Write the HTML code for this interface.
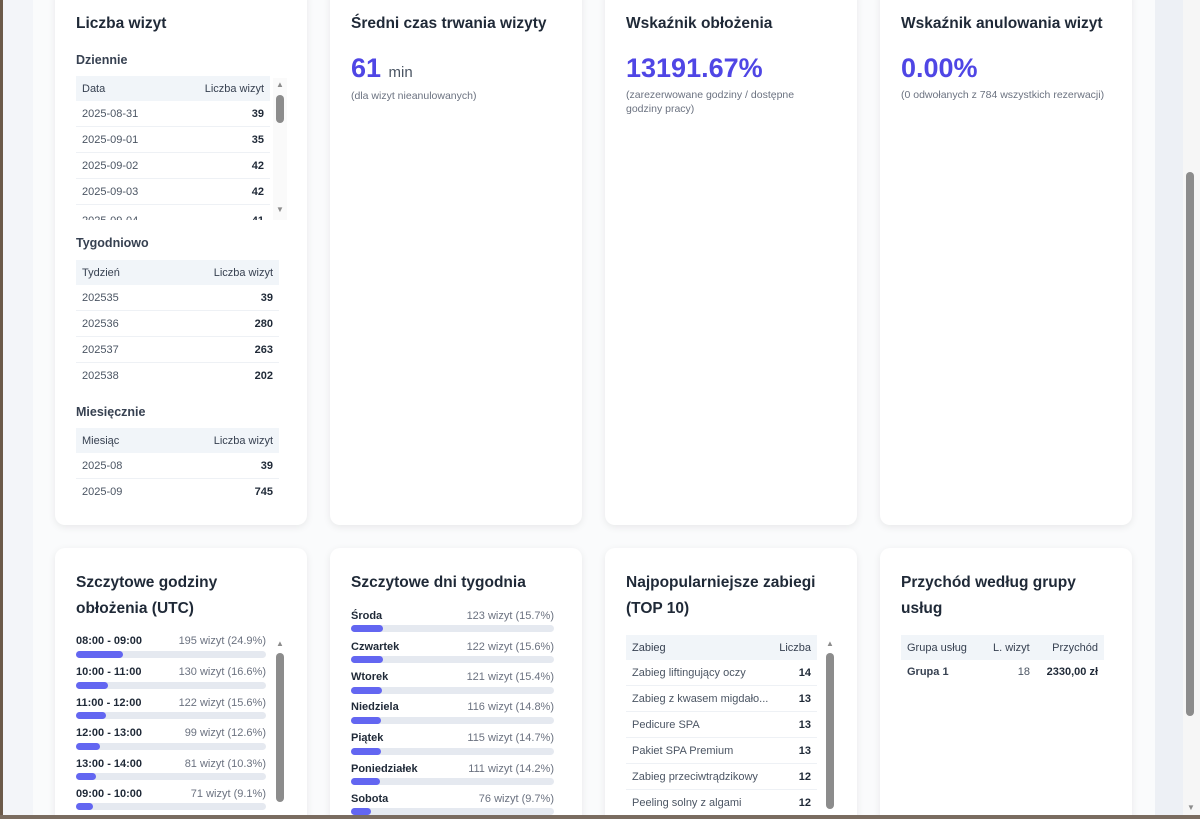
<!DOCTYPE html>
<html><head><meta charset="utf-8"><style>
*{box-sizing:border-box;margin:0;padding:0}
html,body{width:1200px;height:819px;overflow:hidden}
body{background:#f1f4f8;font-family:"Liberation Sans","DejaVu Sans",sans-serif;position:relative;color:#1f2937}
.a{position:absolute}
.main{left:3px;top:0;width:1180px;height:815px;background:#f3f5f9}
.inner{left:33px;top:0;width:1122px;height:815px;background:#fafbfc}
.card{position:absolute;background:#fff;border-radius:10px;box-shadow:0 2px 8px rgba(0,0,0,.08)}
.t{position:absolute;font-size:15.5px;font-weight:bold;color:#1f2937;line-height:26px}
.sub{position:absolute;font-size:12.5px;color:#374151;font-weight:bold}
.th{position:absolute;background:#f1f5f9;height:25px;font-size:11px;color:#374151}
.th span,.tr span{position:absolute;top:50%;transform:translateY(-50%)}
.tr{position:absolute;height:26px;border-bottom:1px solid #eef1f5;font-size:11px;color:#4b5563}
.tr b{position:absolute;right:6px;top:50%;transform:translateY(-50%);color:#1f2937}
.big{position:absolute;font-size:27px;font-weight:bold;color:#4f46e5}
.note{position:absolute;font-size:10.5px;color:#6b7280;line-height:14px}
.bl{position:absolute;font-size:11px;font-weight:bold;color:#1f2937}
.br{position:absolute;font-size:11px;color:#6b7280;text-align:right}
.track{position:absolute;height:7px;background:#e5e9f0;border-radius:4px}
.fill{position:absolute;left:0;top:0;height:7px;background:#6366f1;border-radius:4px}
.sb{position:absolute;width:8px;background:#8c8c8c;border-radius:4px}
.arr{position:absolute;font-size:8px;color:#8c8c8c}
</style></head><body>
<div class="a main"></div>
<div class="a inner"></div>

<!-- Top row -->
<div class="card" style="left:55px;top:-12px;width:252px;height:537px"></div>
<div class="card" style="left:330px;top:-12px;width:252px;height:537px"></div>
<div class="card" style="left:605px;top:-12px;width:252px;height:537px"></div>
<div class="card" style="left:880px;top:-12px;width:252px;height:537px"></div>

<div class="t" style="left:76px;top:11px">Liczba wizyt</div>
<div class="sub" style="left:76px;top:53px">Dziennie</div>
<div class="th" style="left:76px;top:76px;width:194px"><span style="left:6px">Data</span><span style="right:6px">Liczba wizyt</span></div>
<div style="position:absolute;left:76px;top:101px;width:194px;height:119px;overflow:hidden">
<div class="tr" style="left:0;top:0;width:194px"><span style="left:6px">2025-08-31</span><b>39</b></div>
<div class="tr" style="left:0;top:26px;width:194px"><span style="left:6px">2025-09-01</span><b>35</b></div>
<div class="tr" style="left:0;top:52px;width:194px"><span style="left:6px">2025-09-02</span><b>42</b></div>
<div class="tr" style="left:0;top:78px;width:194px"><span style="left:6px">2025-09-03</span><b>42</b></div>
<div class="tr" style="left:0;top:107px;width:194px"><span style="left:6px">2025-09-04</span><b>41</b></div>
</div>
<div class="a" style="left:273px;top:78px;width:14px;height:142px;background:#fafafa"></div>
<div class="arr" style="left:276px;top:80px">▲</div>
<div class="sb" style="left:276px;top:95px;height:28px"></div>
<div class="arr" style="left:276px;top:205px">▼</div>

<div class="sub" style="left:76px;top:236px">Tygodniowo</div>
<div class="th" style="left:76px;top:260px;width:203px"><span style="left:6px">Tydzień</span><span style="right:6px">Liczba wizyt</span></div>
<div class="tr" style="left:76px;top:285px;width:203px"><span style="left:6px">202535</span><b>39</b></div>
<div class="tr" style="left:76px;top:311px;width:203px"><span style="left:6px">202536</span><b>280</b></div>
<div class="tr" style="left:76px;top:337px;width:203px"><span style="left:6px">202537</span><b>263</b></div>
<div class="tr" style="left:76px;top:363px;width:203px;border:none"><span style="left:6px">202538</span><b>202</b></div>

<div class="sub" style="left:76px;top:405px">Miesięcznie</div>
<div class="th" style="left:76px;top:428px;width:203px"><span style="left:6px">Miesiąc</span><span style="right:6px">Liczba wizyt</span></div>
<div class="tr" style="left:76px;top:453px;width:203px"><span style="left:6px">2025-08</span><b>39</b></div>
<div class="tr" style="left:76px;top:479px;width:203px;border:none"><span style="left:6px">2025-09</span><b>745</b></div>

<div class="t" style="left:351px;top:11px">Średni czas trwania wizyty</div>
<div class="big" style="left:351px;top:53px">61 <span style="font-size:15px;font-weight:normal;color:#4b5563">min</span></div>
<div class="note" style="left:351px;top:89px">(dla wizyt nieanulowanych)</div>

<div class="t" style="left:626px;top:11px">Wskaźnik obłożenia</div>
<div class="big" style="left:626px;top:53px">13191.67%</div>
<div class="note" style="left:626px;top:88px;width:200px">(zarezerwowane godziny / dostępne godziny pracy)</div>

<div class="t" style="left:901px;top:11px">Wskaźnik anulowania wizyt</div>
<div class="big" style="left:901px;top:53px">0.00%</div>
<div class="note" style="left:901px;top:88px">(0 odwołanych z 784 wszystkich rezerwacji)</div>

<!-- Bottom row -->
<div class="card" style="left:55px;top:548px;width:252px;height:290px"></div>
<div class="card" style="left:330px;top:548px;width:252px;height:290px"></div>
<div class="card" style="left:605px;top:548px;width:252px;height:290px"></div>
<div class="card" style="left:880px;top:548px;width:252px;height:290px"></div>

<div class="t" style="left:76px;top:570px;width:200px">Szczytowe godziny obłożenia (UTC)</div>
<div class="bl" style="left:76px;top:635px">08:00 - 09:00</div><div class="br" style="left:146px;top:635px;width:120px">195 wizyt (24.9%)</div><div class="track" style="left:76px;top:651px;width:190px"><div class="fill" style="width:47px"></div></div>
<div class="bl" style="left:76px;top:666px">10:00 - 11:00</div><div class="br" style="left:146px;top:666px;width:120px">130 wizyt (16.6%)</div><div class="track" style="left:76px;top:682px;width:190px"><div class="fill" style="width:32px"></div></div>
<div class="bl" style="left:76px;top:697px">11:00 - 12:00</div><div class="br" style="left:146px;top:697px;width:120px">122 wizyt (15.6%)</div><div class="track" style="left:76px;top:712px;width:190px"><div class="fill" style="width:30px"></div></div>
<div class="bl" style="left:76px;top:727px">12:00 - 13:00</div><div class="br" style="left:146px;top:727px;width:120px">99 wizyt (12.6%)</div><div class="track" style="left:76px;top:743px;width:190px"><div class="fill" style="width:24px"></div></div>
<div class="bl" style="left:76px;top:758px">13:00 - 14:00</div><div class="br" style="left:146px;top:758px;width:120px">81 wizyt (10.3%)</div><div class="track" style="left:76px;top:773px;width:190px"><div class="fill" style="width:20px"></div></div>
<div class="bl" style="left:76px;top:788px">09:00 - 10:00</div><div class="br" style="left:146px;top:788px;width:120px">71 wizyt (9.1%)</div><div class="track" style="left:76px;top:803px;width:190px"><div class="fill" style="width:17px"></div></div>
<div class="arr" style="left:276px;top:639px">▲</div>
<div class="sb" style="left:276px;top:653px;height:149px"></div>

<div class="t" style="left:351px;top:570px">Szczytowe dni tygodnia</div>
<div class="bl" style="left:351px;top:610px">Środa</div><div class="br" style="left:414px;top:610px;width:140px">123 wizyt (15.7%)</div><div class="track" style="left:351px;top:625px;width:203px"><div class="fill" style="width:32px"></div></div>
<div class="bl" style="left:351px;top:641px">Czwartek</div><div class="br" style="left:414px;top:641px;width:140px">122 wizyt (15.6%)</div><div class="track" style="left:351px;top:656px;width:203px"><div class="fill" style="width:32px"></div></div>
<div class="bl" style="left:351px;top:671px">Wtorek</div><div class="br" style="left:414px;top:671px;width:140px">121 wizyt (15.4%)</div><div class="track" style="left:351px;top:687px;width:203px"><div class="fill" style="width:31px"></div></div>
<div class="bl" style="left:351px;top:701px">Niedziela</div><div class="br" style="left:414px;top:701px;width:140px">116 wizyt (14.8%)</div><div class="track" style="left:351px;top:717px;width:203px"><div class="fill" style="width:30px"></div></div>
<div class="bl" style="left:351px;top:732px">Piątek</div><div class="br" style="left:414px;top:732px;width:140px">115 wizyt (14.7%)</div><div class="track" style="left:351px;top:748px;width:203px"><div class="fill" style="width:30px"></div></div>
<div class="bl" style="left:351px;top:763px">Poniedziałek</div><div class="br" style="left:414px;top:763px;width:140px">111 wizyt (14.2%)</div><div class="track" style="left:351px;top:778px;width:203px"><div class="fill" style="width:29px"></div></div>
<div class="bl" style="left:351px;top:793px">Sobota</div><div class="br" style="left:414px;top:793px;width:140px">76 wizyt (9.7%)</div><div class="track" style="left:351px;top:808px;width:203px"><div class="fill" style="width:20px"></div></div>

<div class="t" style="left:626px;top:570px;width:215px">Najpopularniejsze zabiegi (TOP 10)</div>
<div class="th" style="left:626px;top:635px;width:191px"><span style="left:6px">Zabieg</span><span style="right:6px">Liczba</span></div>
<div class="tr" style="left:626px;top:660px;width:191px"><span style="left:6px">Zabieg liftingujący oczy</span><b>14</b></div>
<div class="tr" style="left:626px;top:686px;width:191px"><span style="left:6px">Zabieg z kwasem migdało...</span><b>13</b></div>
<div class="tr" style="left:626px;top:712px;width:191px"><span style="left:6px">Pedicure SPA</span><b>13</b></div>
<div class="tr" style="left:626px;top:738px;width:191px"><span style="left:6px">Pakiet SPA Premium</span><b>13</b></div>
<div class="tr" style="left:626px;top:764px;width:191px"><span style="left:6px">Zabieg przeciwtrądzikowy</span><b>12</b></div>
<div class="tr" style="left:626px;top:790px;width:191px;border:none"><span style="left:6px">Peeling solny z algami</span><b>12</b></div>
<div class="arr" style="left:826px;top:639px">▲</div>
<div class="sb" style="left:826px;top:653px;height:156px"></div>

<div class="t" style="left:901px;top:570px;width:215px">Przychód według grupy usług</div>
<div class="th" style="left:901px;top:635px;width:203px"><span style="left:6px">Grupa usług</span><span style="left:92px">L. wizyt</span><span style="right:6px">Przychód</span></div>
<div class="a" style="left:907px;top:666px;font-size:11px;font-weight:bold;color:#374151">Grupa 1</div>
<div class="a" style="left:1010px;top:666px;font-size:11px;color:#4b5563;width:20px;text-align:right">18</div>
<div class="a" style="left:1040px;top:666px;font-size:11px;font-weight:bold;color:#1f2937;width:58px;text-align:right">2330,00 zł</div>

<!-- window frame & scrollbar on top -->
<div class="a" style="left:1155px;top:0;width:28px;height:815px;background:#edf0f5"></div>
<div class="a" style="left:1183px;top:0;width:17px;height:815px;background:#f6f6f6"></div>
<div class="sb" style="left:1186px;top:172px;height:544px;"></div>
<div class="arr" style="left:1187px;top:803px">▼</div>
<div class="a" style="left:0;top:0;width:3px;height:819px;background:#6b5a4a"></div>
<div class="a" style="left:0;top:815px;width:1200px;height:4px;background:#7a6c60"></div>
</body></html>
